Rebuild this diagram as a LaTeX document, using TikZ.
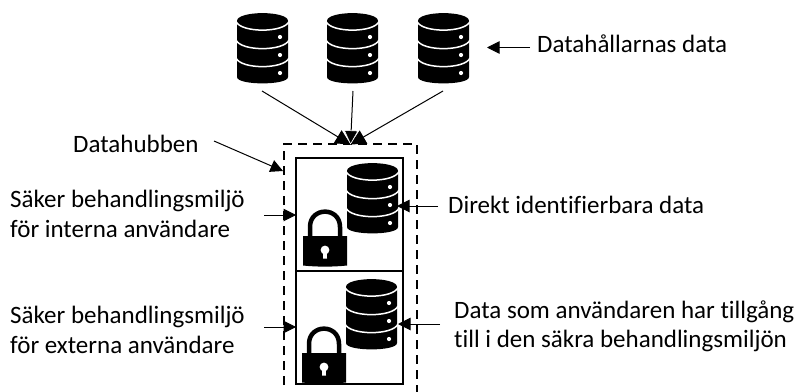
\documentclass[tikz,border=0pt]{standalone}
\usepackage{fontspec}
\setmainfont[Ligatures=NoCommon]{Carlito}
\usetikzlibrary{arrows.meta}
\tikzset{
  x=1pt,y=-1pt,
  lbl/.style={anchor=base west,inner sep=0pt,font=\fontsize{25}{30}\selectfont,text=black},
  conn/.style={draw=black,line width=1pt,-{Triangle[length=12.5pt,width=12.5pt,fill=black]}},
  connh/.style={draw=black,line width=1pt,-{Triangle[length=15pt,width=15pt,fill=black]}},
  connw/.style={draw=black,line width=1pt,-{Triangle[length=14pt,width=14pt,fill=black,color=white,line width=0.5pt]}},
  envbox/.style={draw=black,line width=2pt,minimum width=107pt,minimum height=113pt,inner sep=0pt,outer sep=0pt,anchor=north west},
  dbicon/.pic={
    \fill[black] (0,8) .. controls (0,-2.5) and (51,-2.5) .. (51,8) -- (51,64)
      .. controls (51,72.5) and (0,72.5) .. (0,64) -- cycle;
    \foreach \yy in {8.5,27,45}{
      \draw[white,line width=1.5pt] (-1,\yy) .. controls (4,\yy+11.5) and (47,\yy+11.5) .. (52,\yy);
    }
    \foreach \yy in {24,42,60}{\fill[white] (43,\yy) circle (2.1);}
  },
  lockicon/.pic={
    \draw[black,line width=4.5pt] (7,28) -- (7,17) .. controls (7,-3.5) and (37,-3.5) .. (37,17) -- (37,28);
    \fill[black] (0,26) -- (44,26) -- (44,55.5) .. controls (30,57) and (14,57) .. (0,55.5) -- cycle;
    \fill[white] (22,40) circle (4.4);
    \fill[white] (20.2,41) -- (23.8,41) -- (24,48.5) -- (20,48.5) -- cycle;
  }
}
\begin{document}
\begin{tikzpicture}
\useasboundingbox (0,0) rectangle (797,391);
\clip (0,0) rectangle (797,391);
% database icons
\pic at (237,13) {dbicon};
\pic at (327,13) {dbicon};
\pic at (418,13) {dbicon};
\coordinate (s1) at (262,91);
\coordinate (s2) at (353,91);
\coordinate (s3) at (443,91);
\coordinate (hub) at (350.5,144.5);
% dashed hub
\draw[black,line width=1.8pt,dash pattern=on 9pt off 6pt] (284,385) -- (284,144) -- (417,144) -- (417,392);
% inner environments
\node[envbox] (intbox) at (296,158) {};
\node[envbox] (extbox) at (296,271) {};
\pic at (347,163) {dbicon};
\pic at (346,279) {dbicon};
\pic at (303,210) {lockicon};
\pic at (302,327) {lockicon};
% arrows into hub
\draw[connh] (s1) -- (hub);
\draw[connh] (s3) -- (hub);
\draw[connw] (s2) -- (hub);
% labels
\node[lbl] (ldata) at (537,52) {Datahållarnas data};
\node[lbl] (lhub) at (73,152) {Datahubben};
\node[lbl] (lint1) at (10,207) {Säker behandlingsmiljö};
\node[lbl] (lint2) at (10,237) {för interna användare};
\node[lbl] (ldir) at (448,213) {Direkt identifierbara data};
\node[lbl] (lext1) at (10,323) {Säker behandlingsmiljö};
\node[lbl] (lext2) at (10,353) {för externa användare};
\node[lbl] (lsec1) at (454,318) {Data som användaren har tillgång};
\node[lbl] (lsec2) at (454,347) {till i den säkra behandlingsmiljön};
% label arrows
\coordinate (a1s) at (530,47.5); \coordinate (a1e) at (487,47.5);
\coordinate (a2s) at (214,141); \coordinate (a2e) at (283,171);
\coordinate (a3s) at (264,215); \coordinate (a3e) at (296,215);
\coordinate (a4s) at (438,206); \coordinate (a4e) at (397,206);
\coordinate (a5s) at (264,327); \coordinate (a5e) at (296,327);
\coordinate (a6s) at (440,324); \coordinate (a6e) at (398,324);
\draw[conn] (a1s) -- (a1e);
\draw[conn] (a2s) -- (a2e);
\draw[conn] (a3s) -- (a3e);
\draw[conn] (a4s) -- (a4e);
\draw[conn] (a5s) -- (a5e);
\draw[conn] (a6s) -- (a6e);
\end{tikzpicture}
\end{document}
